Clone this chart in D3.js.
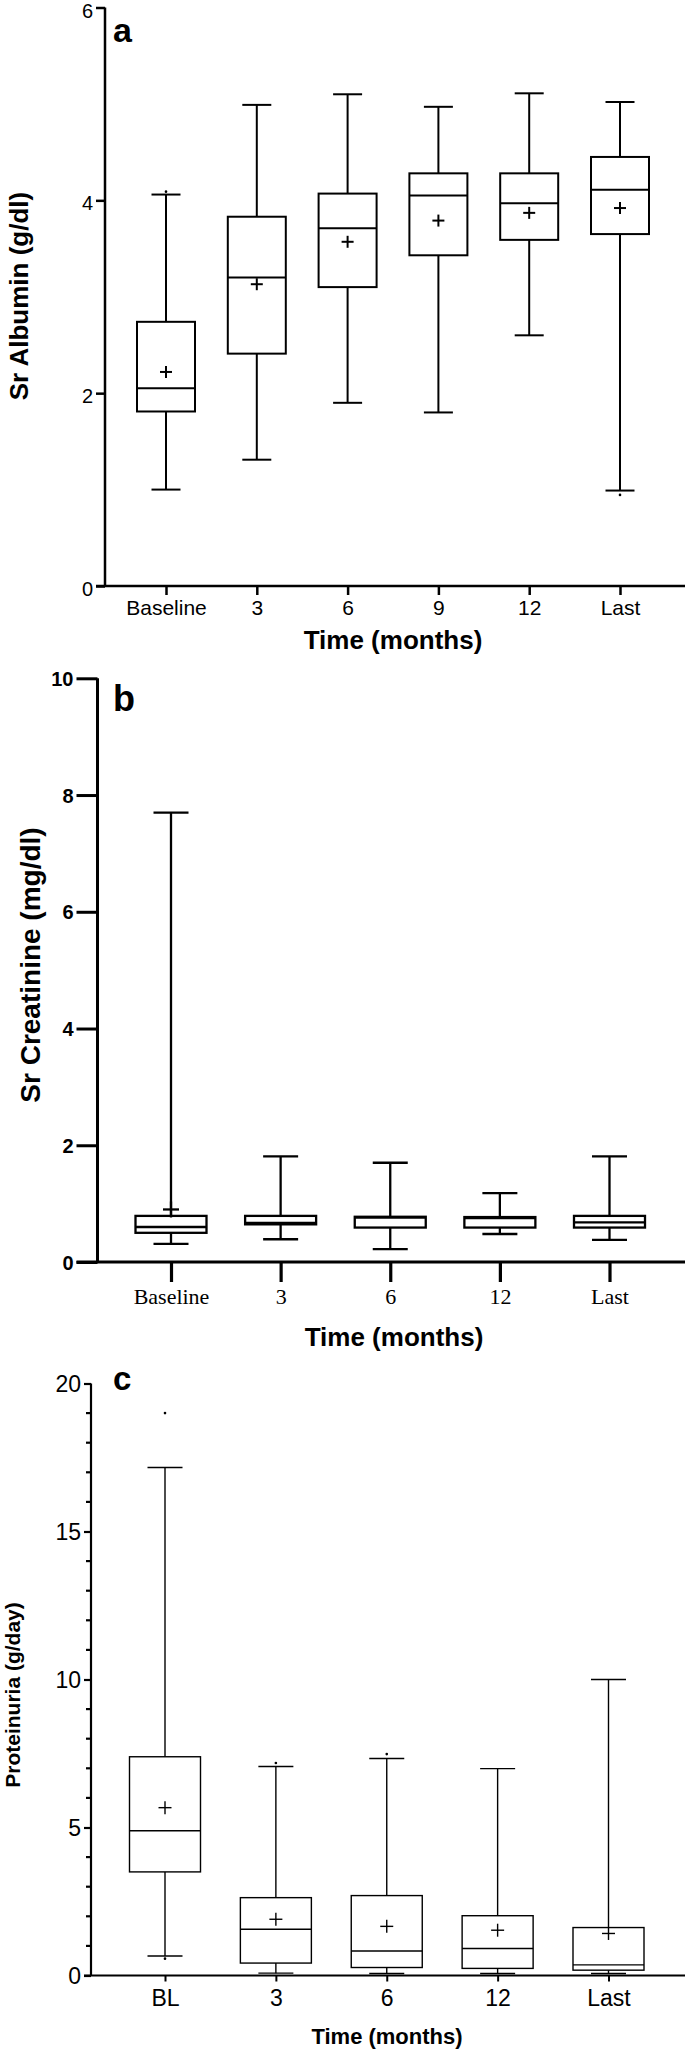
<!DOCTYPE html>
<html>
<head>
<meta charset="utf-8">
<script src="https://cdn.jsdelivr.net/npm/d3@7"></script>
<style>
  html, body { margin: 0; padding: 0; background: #fff; }
  svg { display: block; }
</style>
</head>
<body>
<script>
// ---------- Panel a: Sr Albumin ----------
const aCats = ["Baseline", "3", "6", "9", "12", "Last"];
const aMin  = [1.00, 1.31, 1.90, 1.80, 2.60, 0.99];
const aQ1   = [1.81, 2.41, 3.10, 3.43, 3.59, 3.65];
const aMed  = [2.05, 3.20, 3.71, 4.05, 3.97, 4.11];
const aQ3   = [2.74, 3.83, 4.07, 4.28, 4.28, 4.45];
const aMax  = [4.06, 4.99, 5.10, 4.97, 5.11, 5.02];
const aMean = [2.22, 3.13, 3.57, 3.79, 3.87, 3.92];
const aOut  = [[4.09], [], [], [], [], [0.945]];
const aTicks = [0, 2, 4, 6];

// ---------- Panel b: Sr Creatinine ----------
const bCats = ["Baseline", "3", "6", "12", "Last"];
const bMin  = [0.31, 0.39, 0.22, 0.48, 0.38];
const bQ1   = [0.50, 0.645, 0.59, 0.59, 0.59];
const bMed  = [0.60, 0.67, 0.76, 0.75, 0.68];
const bQ3   = [0.79, 0.79, 0.775, 0.77, 0.79];
const bMax  = [7.70, 1.81, 1.70, 1.18, 1.81];
const bMean = [0.90, null, null, null, null];
const bOut  = [[], [], [], [], []];
const bTicks = [0, 2, 4, 6, 8, 10];

// ---------- Panel c: Proteinuria ----------
const cCats = ["BL", "3", "6", "12", "Last"];
const cMin  = [0.66, 0.08, 0.07, 0.07, 0.07];
const cQ1   = [3.50, 0.42, 0.27, 0.24, 0.18];
const cMed  = [4.89, 1.56, 0.83, 0.91, 0.36];
const cQ3   = [7.39, 2.63, 2.70, 2.02, 1.62];
const cMax  = [17.16, 7.06, 7.33, 6.99, 10.0];
const cMean = [5.67, 1.90, 1.66, 1.53, 1.42];
const cOut  = [[19.0, 0.57], [7.18], [7.48], [], []];
const cTicks = [0, 5, 10, 15, 20];
const cMinorTicks = d3.range(0, 21, 1);

const sans = "'Liberation Sans', Arial, Helvetica, sans-serif";
const serif = "'Liberation Serif', 'Times New Roman', serif";

const svg = d3.select("body").append("svg")
  .attr("width", 685).attr("height", 2051)
  .attr("viewBox", "0 0 685 2051");

function build(cats, mn, q1, md, q3, mx, mean, out) {
  return cats.map((c, i) => ({cat: c, min: mn[i], q1: q1[i], med: md[i], q3: q3[i], max: mx[i], mean: mean[i], out: out[i]}));
}

function drawPanel(o) {
  const g = svg.append("g");
  const x = d3.scalePoint().domain(o.cats).range(o.xRange);
  const y = d3.scaleLinear().domain(o.yDomain).range(o.yRange);
  const data = o.data;

  // boxes
  const bg = g.append("g").attr("fill", "none").attr("stroke", "#000").attr("stroke-width", o.boxStroke);
  data.forEach(d => {
    const cx = x(d.cat);
    bg.append("line").attr("x1", cx).attr("x2", cx).attr("y1", y(d.q3)).attr("y2", y(d.max));
    bg.append("line").attr("x1", cx).attr("x2", cx).attr("y1", y(d.q1)).attr("y2", y(d.min));
    bg.append("line").attr("x1", cx - o.capW / 2).attr("x2", cx + o.capW / 2).attr("y1", y(d.max)).attr("y2", y(d.max));
    bg.append("line").attr("x1", cx - o.capW / 2).attr("x2", cx + o.capW / 2).attr("y1", y(d.min)).attr("y2", y(d.min));
    bg.append("rect").attr("x", cx - o.boxW / 2).attr("width", o.boxW)
      .attr("y", y(d.q3)).attr("height", y(d.q1) - y(d.q3)).attr("fill", "#fff");
    bg.append("line").attr("x1", cx - o.boxW / 2).attr("x2", cx + o.boxW / 2).attr("y1", y(d.med)).attr("y2", y(d.med));
    if (d.mean != null) {
      bg.append("line").attr("x1", cx - o.plus / 2).attr("x2", cx + o.plus / 2).attr("y1", y(d.mean)).attr("y2", y(d.mean));
      bg.append("line").attr("x1", cx).attr("x2", cx).attr("y1", y(d.mean) - o.plus / 2).attr("y2", y(d.mean) + o.plus / 2);
    }
    d.out.forEach(v => {
      g.append("circle").attr("cx", cx).attr("cy", y(v)).attr("r", 1.3).attr("fill", "#000");
    });
  });

  // y axis
  const yAxis = d3.axisLeft(y).tickValues(o.yTicks).tickSize(o.yTickLen).tickSizeOuter(0).tickPadding(o.yPad).tickFormat(d3.format("d"));
  const ya = g.append("g").attr("transform", `translate(${o.xAxisLeft},0)`).call(yAxis);
  ya.select(".domain").attr("stroke-width", o.axisStroke).attr("d", `M0,${o.yRange[0]}V${o.yRange[1]}`);
  ya.selectAll(".tick line").attr("stroke-width", o.axisStroke);
  ya.selectAll(".tick text").attr("font-family", o.yFont).attr("font-size", o.yFontSize).attr("font-weight", o.yWeight)
    .attr("fill", "#000").attr("dy", o.yDy);

  if (o.minorTicks) {
    g.append("g").selectAll("line").data(o.minorTicks.filter(v => !o.yTicks.includes(v))).join("line")
      .attr("x1", o.xAxisLeft - o.minorLen).attr("x2", o.xAxisLeft)
      .attr("y1", d => y(d)).attr("y2", d => y(d))
      .attr("stroke", "#000").attr("stroke-width", o.axisStroke);
  }

  // x axis
  const xAxis = d3.axisBottom(x).tickSize(o.xTickLen).tickSizeOuter(0).tickPadding(o.xPad);
  const xa = g.append("g").attr("transform", `translate(0,${o.yRange[0]})`).call(xAxis);
  xa.select(".domain").attr("stroke-width", o.axisStroke).attr("d", `M${o.xAxisLeft - o.yTickLen},0H685`);
  xa.selectAll(".tick line").attr("stroke-width", o.xTickStroke);
  xa.selectAll(".tick text").attr("font-family", o.xFont).attr("font-size", o.xFontSize).attr("fill", "#000");

  // titles
  g.append("text").attr("x", o.titleX).attr("y", o.titleY).attr("text-anchor", "middle")
    .attr("font-family", sans).attr("font-weight", "bold").attr("font-size", o.titleSize).text("Time (months)");
  g.append("text").attr("transform", `translate(${o.ylabX},${o.ylabY}) rotate(-90)`).attr("text-anchor", "middle")
    .attr("font-family", sans).attr("font-weight", "bold").attr("font-size", o.ylabSize).text(o.ylab);
  g.append("text").attr("x", 113).attr("y", o.letterY)
    .attr("font-family", sans).attr("font-weight", "bold").attr("font-size", o.letterSize).text(o.letter);
}

drawPanel({
  cats: aCats, data: build(aCats, aMin, aQ1, aMed, aQ3, aMax, aMean, aOut),
  xRange: [166, 620], yDomain: [0, 6], yRange: [586, 7.5], yTicks: aTicks,
  xAxisLeft: 105, boxW: 58, capW: 29, plus: 12, boxStroke: 2, axisStroke: 2.5,
  yTickLen: 9, yPad: 3, yFont: sans, yFontSize: 20, yWeight: "normal", yDy: "0.48em",
  xTickLen: 9, xTickStroke: 2.5, xPad: 5, xFont: sans, xFontSize: 21,
  titleX: 393, titleY: 649, titleSize: 26,
  ylab: "Sr Albumin (g/dl)", ylabX: 28, ylabY: 296, ylabSize: 26,
  letter: "a", letterY: 42, letterSize: 34
});

drawPanel({
  cats: bCats, data: build(bCats, bMin, bQ1, bMed, bQ3, bMax, bMean, bOut),
  xRange: [171, 609.5], yDomain: [0, 10], yRange: [1262, 678.3], yTicks: bTicks,
  xAxisLeft: 97.5, boxW: 71, capW: 35, plus: 16, boxStroke: 2.3, axisStroke: 3,
  yTickLen: 21, yPad: 3, yFont: sans, yFontSize: 20, yWeight: "bold", yDy: "0.36em",
  xTickLen: 20, xTickStroke: 3.2, xPad: 6, xFont: serif, xFontSize: 22,
  titleX: 394, titleY: 1346, titleSize: 26,
  ylab: "Sr Creatinine (mg/dl)", ylabX: 39.5, ylabY: 965, ylabSize: 28,
  letter: "b", letterY: 711, letterSize: 36
});

drawPanel({
  cats: cCats, data: build(cCats, cMin, cQ1, cMed, cQ3, cMax, cMean, cOut),
  xRange: [165, 608.5], yDomain: [0, 20], yRange: [1975.5, 1383.5], yTicks: cTicks,
  minorTicks: cMinorTicks, minorLen: 5,
  xAxisLeft: 91, boxW: 71, capW: 35, plus: 13, boxStroke: 1.4, axisStroke: 2.2,
  yTickLen: 7, yPad: 3, yFont: sans, yFontSize: 23, yWeight: "normal", yDy: "0.36em",
  xTickLen: 6, xTickStroke: 2, xPad: 8, xFont: sans, xFontSize: 23,
  titleX: 387, titleY: 2044, titleSize: 22,
  ylab: "Proteinuria (g/day)", ylabX: 19.5, ylabY: 1695, ylabSize: 21,
  letter: "c", letterY: 1390, letterSize: 33
});
</script>
</body>
</html>
